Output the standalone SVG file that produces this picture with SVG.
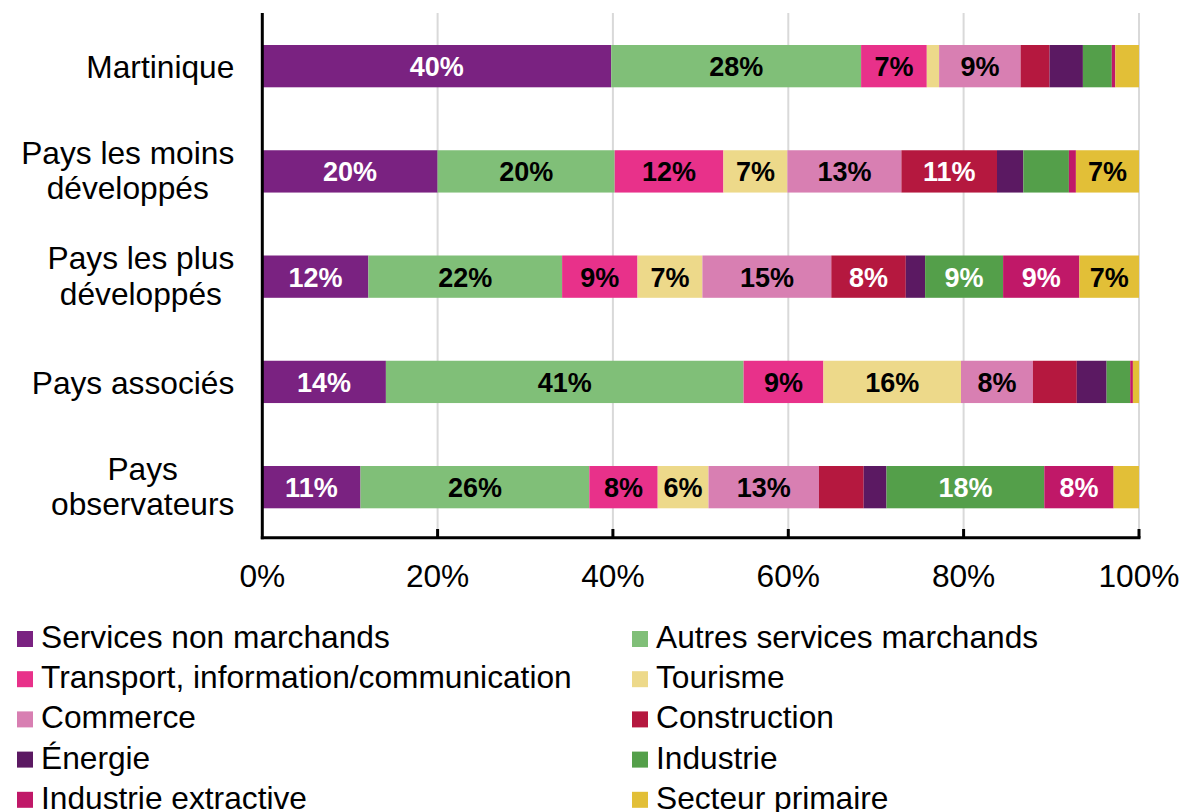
<svg xmlns="http://www.w3.org/2000/svg" width="1181" height="812" viewBox="0 0 1181 812">
<style>
.t{font-family:"Liberation Sans",Arial,sans-serif;font-size:31.7px;fill:#000}
.b{font-family:"Liberation Sans",Arial,sans-serif;font-size:27px;font-weight:bold;text-anchor:middle}
.w{fill:#fff}.k{fill:#000}
.snm{fill:#7A2281}.asm{fill:#80BF78}.tra{fill:#E8318A}.tou{fill:#EDD98A}.com{fill:#D87FB2}
.con{fill:#B5183F}.ene{fill:#5B1962}.ind{fill:#549F4A}.ext{fill:#C01868}.pri{fill:#E2BF37}
.grid{stroke:#D9D9D9;stroke-width:2}
.ax{stroke:#000;stroke-width:3;fill:none}
</style>
<rect width="1181" height="812" fill="#fff"/>
<g id="grid">
<line class="grid" x1="437.6" y1="13" x2="437.6" y2="538"/>
<line class="grid" x1="612.9" y1="13" x2="612.9" y2="538"/>
<line class="grid" x1="788.3" y1="13" x2="788.3" y2="538"/>
<line class="grid" x1="963.6" y1="13" x2="963.6" y2="538"/>
<line class="grid" x1="1139" y1="13" x2="1139" y2="538"/>
</g>
<g id="bar-martinique">
<rect class="snm" x="262.3" y="45" width="348.9" height="42.3"/>
<rect class="asm" x="611.2" y="45" width="249.9" height="42.3"/>
<rect class="tra" x="861.1" y="45" width="65.7" height="42.3"/>
<rect class="tou" x="926.8" y="45" width="12.3" height="42.3"/>
<rect class="com" x="939.1" y="45" width="81.5" height="42.3"/>
<rect class="con" x="1020.6" y="45" width="29" height="42.3"/>
<rect class="ene" x="1049.6" y="45" width="33.3" height="42.3"/>
<rect class="ind" x="1082.9" y="45" width="28.9" height="42.3"/>
<rect class="ext" x="1111.8" y="45" width="3.5" height="42.3"/>
<rect class="pri" x="1115.3" y="45" width="23.7" height="42.3"/>
<text class="b w" x="436.8" y="76">40%</text>
<text class="b k" x="736.2" y="76">28%</text>
<text class="b k" x="894" y="76">7%</text>
<text class="b k" x="979.9" y="76">9%</text>
</g>
<g id="bar-pmd">
<rect class="snm" x="262.3" y="150.25" width="175.3" height="42.3"/>
<rect class="asm" x="437.6" y="150.25" width="177.1" height="42.3"/>
<rect class="tra" x="614.7" y="150.25" width="108.7" height="42.3"/>
<rect class="tou" x="723.4" y="150.25" width="64" height="42.3"/>
<rect class="com" x="787.4" y="150.25" width="114" height="42.3"/>
<rect class="con" x="901.4" y="150.25" width="95.6" height="42.3"/>
<rect class="ene" x="997" y="150.25" width="26.3" height="42.3"/>
<rect class="ind" x="1023.3" y="150.25" width="45.6" height="42.3"/>
<rect class="ext" x="1068.9" y="150.25" width="7" height="42.3"/>
<rect class="pri" x="1075.9" y="150.25" width="63.1" height="42.3"/>
<text class="b w" x="350" y="181.25">20%</text>
<text class="b k" x="526.2" y="181.25">20%</text>
<text class="b k" x="669.1" y="181.25">12%</text>
<text class="b k" x="755.4" y="181.25">7%</text>
<text class="b k" x="844.4" y="181.25">13%</text>
<text class="b w" x="949.2" y="181.25">11%</text>
<text class="b k" x="1107.5" y="181.25">7%</text>
</g>
<g id="bar-pld">
<rect class="snm" x="262.3" y="255.5" width="106.1" height="42.3"/>
<rect class="asm" x="368.4" y="255.5" width="193.7" height="42.3"/>
<rect class="tra" x="562.1" y="255.5" width="75.4" height="42.3"/>
<rect class="tou" x="637.5" y="255.5" width="64.9" height="42.3"/>
<rect class="com" x="702.4" y="255.5" width="128.9" height="42.3"/>
<rect class="con" x="831.3" y="255.5" width="74.5" height="42.3"/>
<rect class="ene" x="905.8" y="255.5" width="19.3" height="42.3"/>
<rect class="ind" x="925.1" y="255.5" width="78" height="42.3"/>
<rect class="ext" x="1003.1" y="255.5" width="76.3" height="42.3"/>
<rect class="pri" x="1079.4" y="255.5" width="59.6" height="42.3"/>
<text class="b w" x="315.4" y="286.5">12%</text>
<text class="b k" x="465.3" y="286.5">22%</text>
<text class="b k" x="599.8" y="286.5">9%</text>
<text class="b k" x="670" y="286.5">7%</text>
<text class="b k" x="766.9" y="286.5">15%</text>
<text class="b w" x="868.6" y="286.5">8%</text>
<text class="b w" x="964.1" y="286.5">9%</text>
<text class="b w" x="1041.3" y="286.5">9%</text>
<text class="b k" x="1109.2" y="286.5">7%</text>
</g>
<g id="bar-associes">
<rect class="snm" x="262.3" y="360.75" width="123.6" height="42.3"/>
<rect class="asm" x="385.9" y="360.75" width="357.7" height="42.3"/>
<rect class="tra" x="743.6" y="360.75" width="79.8" height="42.3"/>
<rect class="tou" x="823.4" y="360.75" width="137.6" height="42.3"/>
<rect class="com" x="961" y="360.75" width="71.9" height="42.3"/>
<rect class="con" x="1032.9" y="360.75" width="43.9" height="42.3"/>
<rect class="ene" x="1076.8" y="360.75" width="29.8" height="42.3"/>
<rect class="ind" x="1106.6" y="360.75" width="23.6" height="42.3"/>
<rect class="ext" x="1130.2" y="360.75" width="2.7" height="42.3"/>
<rect class="pri" x="1132.9" y="360.75" width="6.1" height="42.3"/>
<text class="b w" x="324.1" y="391.75">14%</text>
<text class="b k" x="564.8" y="391.75">41%</text>
<text class="b k" x="783.5" y="391.75">9%</text>
<text class="b k" x="892.2" y="391.75">16%</text>
<text class="b k" x="997" y="391.75">8%</text>
</g>
<g id="bar-observateurs">
<rect class="snm" x="262.3" y="466" width="98.2" height="42.3"/>
<rect class="asm" x="360.5" y="466" width="228.8" height="42.3"/>
<rect class="tra" x="589.3" y="466" width="68.4" height="42.3"/>
<rect class="tou" x="657.7" y="466" width="50.8" height="42.3"/>
<rect class="com" x="708.5" y="466" width="110.5" height="42.3"/>
<rect class="con" x="819" y="466" width="44.7" height="42.3"/>
<rect class="ene" x="863.7" y="466" width="22.8" height="42.3"/>
<rect class="ind" x="886.5" y="466" width="157.8" height="42.3"/>
<rect class="ext" x="1044.3" y="466" width="69.3" height="42.3"/>
<rect class="pri" x="1113.6" y="466" width="25.4" height="42.3"/>
<text class="b w" x="311.4" y="497">11%</text>
<text class="b k" x="474.9" y="497">26%</text>
<text class="b k" x="623.5" y="497">8%</text>
<text class="b k" x="683.1" y="497">6%</text>
<text class="b k" x="763.8" y="497">13%</text>
<text class="b w" x="965.4" y="497">18%</text>
<text class="b w" x="1079" y="497">8%</text>
</g>
<g id="axes">
<line class="ax" x1="262.3" y1="13" x2="262.3" y2="539.2"/>
<line class="ax" x1="260.8" y1="537.7" x2="1140.5" y2="537.7"/>
<line class="ax" x1="437.6" y1="529" x2="437.6" y2="537.7"/>
<line class="ax" x1="612.9" y1="529" x2="612.9" y2="537.7"/>
<line class="ax" x1="788.3" y1="529" x2="788.3" y2="537.7"/>
<line class="ax" x1="963.6" y1="529" x2="963.6" y2="537.7"/>
<line class="ax" x1="1139" y1="529" x2="1139" y2="537.7"/>
<g class="t" text-anchor="middle">
<text x="262.3" y="587">0%</text>
<text x="437.6" y="587">20%</text>
<text x="612.9" y="587">40%</text>
<text x="788.3" y="587">60%</text>
<text x="963.6" y="587">80%</text>
<text x="1139" y="587">100%</text>
</g>
</g>
<g id="categories" class="t">
<text x="234.3" y="77.7" text-anchor="end">Martinique</text>
<text x="127.7" y="163.5" text-anchor="middle">Pays les moins</text>
<text x="127.7" y="199" text-anchor="middle">développés</text>
<text x="140.9" y="269" text-anchor="middle">Pays les plus</text>
<text x="140.9" y="304.5" text-anchor="middle">développés</text>
<text x="234.3" y="393.7" text-anchor="end">Pays associés</text>
<text x="142.7" y="479.5" text-anchor="middle">Pays</text>
<text x="142.7" y="515" text-anchor="middle">observateurs</text>
</g>
<g id="legend">
<rect class="snm" x="17" y="631" width="16" height="16"/><text class="t" x="41" y="648">Services non marchands</text>
<rect class="asm" x="632" y="631" width="16" height="16"/><text class="t" x="656" y="648">Autres services marchands</text>
<rect class="tra" x="17" y="671.2" width="16" height="16"/><text class="t" x="41" y="688.2">Transport, information/communication</text>
<rect class="tou" x="632" y="671.2" width="16" height="16"/><text class="t" x="656" y="688.2">Tourisme</text>
<rect class="com" x="17" y="711.4" width="16" height="16"/><text class="t" x="41" y="728.4">Commerce</text>
<rect class="con" x="632" y="711.4" width="16" height="16"/><text class="t" x="656" y="728.4">Construction</text>
<rect class="ene" x="17" y="751.6" width="16" height="16"/><text class="t" x="41" y="768.6">Énergie</text>
<rect class="ind" x="632" y="751.6" width="16" height="16"/><text class="t" x="656" y="768.6">Industrie</text>
<rect class="ext" x="17" y="791.8" width="16" height="16"/><text class="t" x="41" y="808.8">Industrie extractive</text>
<rect class="pri" x="632" y="791.8" width="16" height="16"/><text class="t" x="656" y="808.8">Secteur primaire</text>
</g>
</svg>
